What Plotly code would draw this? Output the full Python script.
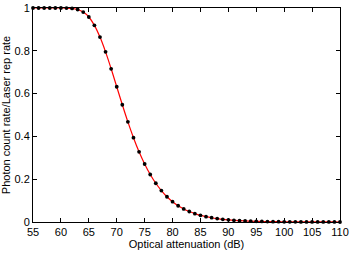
import plotly.graph_objects as go

attenuation_db = list(range(55, 111))
count_ratio = [
    1.000, 1.000, 1.000, 1.000, 1.000, 1.000, 0.9996, 0.998, 0.993, 0.981,
    0.958, 0.919, 0.864, 0.795, 0.716, 0.632, 0.548, 0.468, 0.394, 0.328,
    0.271, 0.222, 0.181, 0.147, 0.118, 0.095, 0.076, 0.061, 0.049, 0.039,
    0.031, 0.025, 0.020, 0.016, 0.0125, 0.010, 0.0079, 0.0063, 0.0050, 0.0040,
    0.0032, 0.0025, 0.0020, 0.0016, 0.0013, 0.0010, 0.0008, 0.0006, 0.0005, 0.0004,
    0.0003, 0.00025, 0.0002, 0.00016, 0.00013, 0.0001,
]
x_ticks = list(range(55, 111, 5))
y_ticks = [0, 0.2, 0.4, 0.6, 0.8, 1]
y_tick_text = ["0", "0.2", "0.4", "0.6", "0.8", "1"]

fig = go.Figure()
fig.add_trace(go.Scatter(
    x=attenuation_db, y=count_ratio, mode="lines",
    line=dict(color="#ff0000", width=1.2, shape="spline"),
    cliponaxis=False, hoverinfo="skip", showlegend=False,
))
fig.add_trace(go.Scatter(
    x=attenuation_db, y=count_ratio, mode="markers",
    marker=dict(color="black", size=3.8),
    cliponaxis=False, showlegend=False,
))

axis_common = dict(
    showline=True, linecolor="black", linewidth=1, mirror="allticks",
    ticks="inside", ticklen=4, tickcolor="black", tickwidth=1,
    showgrid=False, zeroline=False, ticklabeloverflow="allow",
    tickfont=dict(family="Liberation Sans, Arial, sans-serif", size=11, color="black"),
)

fig.update_layout(
    width=350, height=254,
    margin=dict(l=33, r=10, t=8, b=32, autoexpand=False),
    paper_bgcolor="white", plot_bgcolor="white",
    font=dict(family="Liberation Sans, Arial, sans-serif", size=11, color="black"),
    xaxis=dict(range=[55, 110], tickvals=x_ticks,
               title=dict(text="Optical attenuation (dB)", standoff=2,
                          font=dict(size=11)), **axis_common),
    yaxis=dict(range=[0, 1], tickvals=y_ticks, ticktext=y_tick_text,
               title=dict(text="Photon count rate/Laser rep rate", standoff=4,
                          font=dict(size=11)), **axis_common),
)

fig.write_html("out.html", config={"displayModeBar": False},
               post_script="document.body.style.margin='0';document.body.style.overflow='hidden';")
